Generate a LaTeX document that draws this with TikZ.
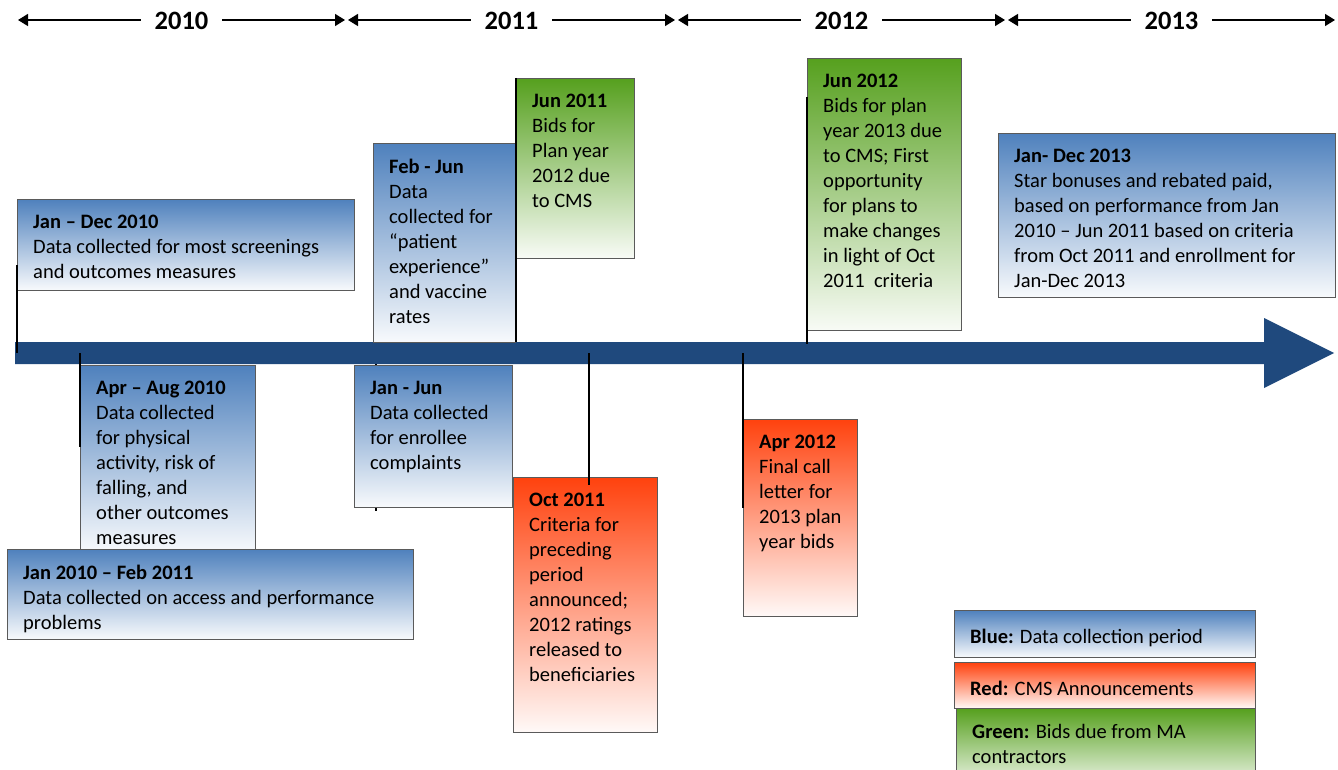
\documentclass[tikz,border=0pt]{standalone}
\usepackage{fontspec}
\setmainfont{Carlito}
\usepackage{xcolor}
\usepackage{tikz}
\usetikzlibrary{arrows.meta,backgrounds}

\definecolor{tlblue}{RGB}{31,73,125}
\definecolor{boxblue}{RGB}{79,129,189}
\definecolor{boxred}{RGB}{255,66,14}
\definecolor{boxgreen}{RGB}{86,160,30}
\definecolor{boxline}{RGB}{90,90,90}

\tikzset{
  tlbox/.style={draw=boxline, line width=0.8pt, anchor=north west, inner sep=0pt},
  bluebox/.style={tlbox, top color=boxblue, bottom color=boxblue!4},
  redbox/.style={tlbox, top color=boxred, bottom color=boxred!3},
  greenbox/.style={tlbox, top color=boxgreen, bottom color=boxgreen!4},
  boxtext/.style={anchor=north west, align=left, inner xsep=16pt, inner ysep=16pt,
    font=\fontsize{20.5}{25}\selectfont, execute at begin node=\strut},
  tickline/.style={line width=1.5pt, black},
  yeararrow/.style={line width=1.4pt, {Triangle[length=10pt,width=12pt]}-{Triangle[length=10pt,width=12pt]}},
  yearlabel/.style={fill=white, inner xsep=14pt, inner ysep=2pt, yshift=-1pt,
    font=\fontsize{26.5}{30}\bfseries\selectfont},
}

\begin{document}
\begin{tikzpicture}[x=1pt, y=-1pt]
    \useasboundingbox (0,0) rectangle (1338,770);

    % years along the top
    \foreach \yr [count=\i from 0] in {2010,2011,2012,2013}
        \draw[yeararrow] (18+330*\i,20) -- (345+330*\i,20) node[midway, yearlabel] (y\yr) {\yr};

    % the time line
    \coordinate (tl) at (15,353);
    \fill[tlblue] (15,342) -- (1264,342) -- (1264,318) -- (1334,353) -- (1264,388) -- (1264,364) -- (15,364) -- cycle;

    % above the line
    \node[bluebox, minimum width=337pt, minimum height=91pt] (jd10) at (17,199) {};
    \node[boxtext] (jd10t) at (jd10.north west) {\textbf{Jan – Dec 2010}\\Data collected for most screenings\\and outcomes measures};

    \node[bluebox, minimum width=142pt, minimum height=199pt] (fj11) at (373,143) {};
    \node[boxtext] (fj11t) at (fj11.north west) {\textbf{Feb - Jun}\\Data\\collected for\\“patient\\experience”\\and vaccine\\rates};

    \node[greenbox, minimum width=118pt, minimum height=180pt] (jun11) at (516,78) {};
    \node[boxtext] (jun11t) at (jun11.north west) {\textbf{Jun 2011}\\Bids for\\Plan year\\2012 due\\to CMS};

    \node[greenbox, minimum width=154pt, minimum height=272pt] (jun12) at (807,58) {};
    \node[boxtext] (jun12t) at (jun12.north west) {\textbf{Jun 2012}\\Bids for plan\\year 2013 due\\to CMS; First\\opportunity\\for plans to\\make changes\\in light of Oct\\2011~ criteria};

    \node[bluebox, minimum width=337pt, minimum height=164pt] (jd13) at (998,133) {};
    \node[boxtext] (jd13t) at (jd13.north west) {\textbf{Jan- Dec 2013}\\Star bonuses and rebated paid,\\based on performance from Jan\\2010 – Jun 2011 based on criteria\\from Oct 2011 and enrollment for\\Jan-Dec 2013};

    % below the line
    \node[bluebox, minimum width=175pt, minimum height=187pt] (aa10) at (80,365) {};
    \node[boxtext] (aa10t) at (aa10.north west) {\textbf{Apr – Aug 2010}\\Data collected\\for physical\\activity, risk of\\falling, and\\other outcomes\\measures};

    \node[bluebox, minimum width=406pt, minimum height=90pt] (jf11) at (7,549) {};
    \node[boxtext] (jf11t) at (jf11.north west) {\textbf{Jan 2010 – Feb 2011}\\Data collected on access and performance\\problems};

    \node[bluebox, minimum width=158pt, minimum height=142pt] (jj11) at (354,365) {};
    \node[boxtext] (jj11t) at (jj11.north west) {\textbf{Jan - Jun}\\Data collected\\for enrollee\\complaints};

    \node[redbox, minimum width=144pt, minimum height=255pt] (oct11) at (513,477) {};
    \node[boxtext] (oct11t) at (oct11.north west) {\textbf{Oct 2011}\\Criteria for\\preceding\\period\\announced;\\2012 ratings\\released to\\beneficiaries};

    \node[redbox, minimum width=114pt, minimum height=197pt] (apr12) at (743,419) {};
    \node[boxtext] (apr12t) at (apr12.north west) {\textbf{Apr 2012}\\Final call\\letter for\\2013 plan\\year bids};

    % ticks
    \begin{pgfonlayer}{background}
        \draw[tickline] ([xshift=22pt]jj11.north west |- tl) -- ([xshift=22pt,yshift=-3pt]jj11.south west);
    \end{pgfonlayer}
    \draw[tickline] ([yshift=-66pt]jd10.north west) -- (jd10.west |- tl);
    \draw[tickline] (aa10.north west |- tl) -- ([yshift=-82pt]aa10.north west);
    \draw[tickline] (jun11.north west) -- ([yshift=11pt]jun11.west |- tl);
    \draw[tickline] ([xshift=76pt]oct11.north west |- tl) -- ([xshift=76pt,yshift=-8pt]oct11.north west);
    \draw[tickline] (apr12.north west |- tl) -- ([yshift=-89pt]apr12.north west);
    \draw[tickline] ([yshift=-39pt]jun12.north west) -- ([yshift=9pt]jun12.west |- tl);

    % legend
    \node[bluebox, minimum width=301pt, minimum height=47pt] (lgblue) at (954,610) {};
    \node[boxtext] (lgbluet) at (lgblue.north west) {\textbf{Blue:} Data collection period};
    \node[redbox, minimum width=301pt, minimum height=46pt] (lgred) at (954,662) {};
    \node[boxtext] (lgredt) at (lgred.north west) {\textbf{Red:} CMS Announcements};
    \node[greenbox, minimum width=299pt, minimum height=82pt] (lggreen) at (956,708) {};
    \node[boxtext] (lggreent) at (lggreen.north west) {\textbf{Green:} Bids due from MA\\contractors};
\end{tikzpicture}
\end{document}
